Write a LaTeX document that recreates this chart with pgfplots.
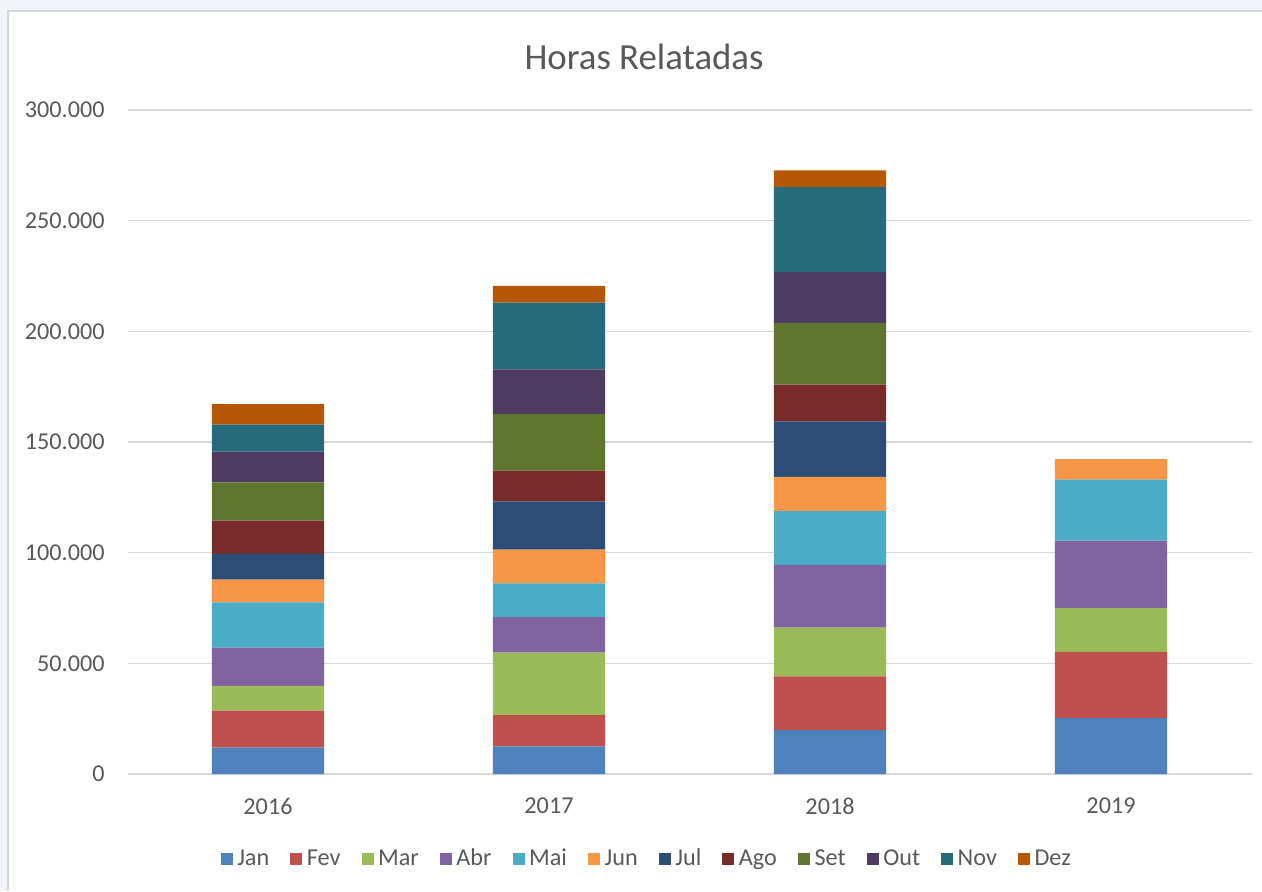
\documentclass[border=0pt]{standalone}
\usepackage{fontspec}
\setmainfont{Carlito}
\usepackage{pgfplots}
\pgfplotsset{compat=1.18}
\definecolor{cJan}{HTML}{4F81BD}
\definecolor{cFev}{HTML}{C0504D}
\definecolor{cMar}{HTML}{9BBB59}
\definecolor{cAbr}{HTML}{8064A2}
\definecolor{cMai}{HTML}{4BACC6}
\definecolor{cJun}{HTML}{F79646}
\definecolor{cJul}{HTML}{2C4D75}
\definecolor{cAgo}{HTML}{772C2A}
\definecolor{cSet}{HTML}{5F7530}
\definecolor{cOut}{HTML}{4D3B62}
\definecolor{cNov}{HTML}{276A7C}
\definecolor{cDez}{HTML}{B65708}
\definecolor{txt}{HTML}{595959}
\definecolor{gridc}{HTML}{D9D9D9}
\definecolor{bgc}{HTML}{F1F4F9}
\definecolor{framec}{HTML}{D4D7DC}
\begin{document}
\begin{tikzpicture}
\fill[bgc] (0,0) rectangle (631pt,-445.5pt);
\fill[white] (4pt,-5.5pt) rectangle (631pt,-445.5pt);
\draw[framec, line width=0.8pt] (4pt,-445.5pt) -- (4pt,-5.5pt) -- (631pt,-5.5pt);
\begin{axis}[
  scale only axis, width=562pt, height=332pt,
  anchor=south west, at={(63.75pt,-387pt)},
  ybar stacked, bar width=0.4,
  xmin=-0.5, xmax=3.5, ymin=0, ymax=300000,
  xtick={0,1,2,3}, xticklabels={2016,2017,2018,2019},
  ytick={0,50000,100000,150000,200000,250000,300000},
  scaled y ticks=false,
  /pgf/number format/.cd, fixed, precision=0, 1000 sep={.}, assume math mode=true,
  /pgfplots/.cd,
  ymajorgrids, grid style={gridc, line width=0.75pt},
  axis line style={draw=none},
  major tick length=0pt, tick style={draw=none},
  ticklabel style={font=\fontsize{12.1}{14.5}\selectfont, text=txt},
  yticklabel style={anchor=east, inner sep=0pt, xshift=-11.25pt},
  xticklabel style={anchor=north, inner sep=0pt, yshift=-11.7pt},
  every axis plot/.append style={draw=none},
  legend image code/.code={\fill[#1,draw=none] (0pt,-3pt) rectangle (6pt,3pt);},
  legend columns=12,
  legend style={draw=none, fill=none, at={(axis description cs:0.4631,-0.128)}, anchor=center,
    font=\fontsize{12.1}{14.5}\selectfont, text=txt,
    nodes={inner xsep=2.3pt, inner ysep=1pt},
    /tikz/every even column/.append style={column sep=8.2pt}},
]
\addplot[fill=cJan] coordinates {(0,11900) (1,12500) (2,19800) (3,25300)};
\addplot[fill=cFev] coordinates {(0,16700) (1,14100) (2,24300) (3,29900)};
\addplot[fill=cMar] coordinates {(0,11200) (1,28200) (2,22000) (3,19700)};
\addplot[fill=cAbr] coordinates {(0,17300) (1,16100) (2,28400) (3,30600)};
\addplot[fill=cMai] coordinates {(0,20400) (1,15200) (2,24250) (3,27500)};
\addplot[fill=cJun] coordinates {(0,10300) (1,15300) (2,15550) (3,9300)};
\addplot[fill=cJul] coordinates {(0,11700) (1,21800) (2,25000) (3,0)};
\addplot[fill=cAgo] coordinates {(0,15000) (1,13900) (2,16600) (3,0)};
\addplot[fill=cSet] coordinates {(0,17300) (1,25500) (2,27850) (3,0)};
\addplot[fill=cOut] coordinates {(0,13900) (1,20200) (2,23050) (3,0)};
\addplot[fill=cNov] coordinates {(0,12200) (1,30200) (2,38400) (3,0)};
\addplot[fill=cDez] coordinates {(0,9200) (1,7500) (2,7500) (3,0)};
\legend{Jan,Fev,Mar,Abr,Mai,Jun,Jul,Ago,Set,Out,Nov,Dez}
\end{axis}
\node[text=txt, font=\fontsize{18.4}{22}\selectfont, inner sep=0pt] at (322pt,-28.5pt) {Horas Relatadas};
\pgfresetboundingbox
\path[use as bounding box] (0,0) rectangle (631pt,-445.5pt);
\end{tikzpicture}
\end{document}
